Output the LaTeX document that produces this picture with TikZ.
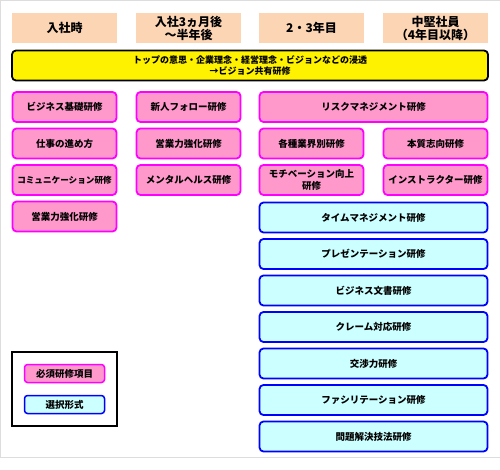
\documentclass[tikz,border=0pt]{standalone}
\usepackage{fontspec}
\setmainfont{Noto Sans CJK JP}
\usetikzlibrary{positioning}
\definecolor{peach}{HTML}{FCD5B4}
\definecolor{pinkfill}{HTML}{FF99CC}
\definecolor{pinkline}{HTML}{FF00FF}
\definecolor{blueline}{HTML}{0000FF}
\definecolor{cyanfill}{HTML}{CCFFFF}
\definecolor{framegray}{HTML}{DDDDDD}

\tikzset{
  header/.style={fill=peach, minimum width=105pt, minimum height=30pt, inner sep=0pt, align=center, font=\fontsize{12}{13}\selectfont\bfseries},
  pinkbox/.style={draw=pinkline, fill=pinkfill, line width=1.8pt, rounded corners=4pt, minimum height=30pt, inner sep=0pt, align=center, font=\fontsize{9.5}{11.5}\selectfont\bfseries},
  bluebox/.style={draw=blueline, fill=cyanfill, line width=1.8pt, rounded corners=4pt, minimum height=30pt, inner sep=0pt, align=center, font=\fontsize{9.5}{11.5}\selectfont\bfseries},
}

\begin{document}
\begin{tikzpicture}[x=1pt, y=-1pt]
\useasboundingbox (0,0) rectangle (500,470);
\draw[framegray, line width=1pt] (500,1)--(0.5,1)--(0.5,457)--(500,457);

% columns
\node[header] (h1) at (64.5,28) {入社時};
\node[header] (h2) at (188.5,28) {入社3ヵ月後\\～半年後};
\node[header] (h3) at (311.5,28) {2・3年目};
\node[header] (h4) at (435.5,28) {中堅社員\\（4年目以降）};

\node[draw=black, fill=yellow, line width=1.8pt, rounded corners=4pt, minimum width=476pt, minimum height=30pt, inner sep=0pt, align=center, font=\fontsize{9}{11}\selectfont\bfseries] (vision) at (250,65.5)
  {トップの意思・企業理念・経営理念・ビジョンなどの浸透\\→ビジョン共有研修};

% 入社時
\foreach \t [count=\i] in {ビジネス基礎研修, 仕事の進め方, {\fontsize{8.6}{10}\selectfont コミュニケーション研修}, 営業力強化研修}
  \node[pinkbox, minimum width=104pt] (a\i) at (64.5,{107+36.5*(\i-1)}) {\t};

% 3ヵ月後
\foreach \t [count=\i] in {新人フォロー研修, 営業力強化研修, メンタルヘルス研修}
  \node[pinkbox, minimum width=104pt] (b\i) at (188.5,{107+36.5*(\i-1)}) {\t};

% 2・3年目 / 中堅
\node[pinkbox, minimum width=228pt] (risk) at (373.5,107) {リスクマネジメント研修};
\node[pinkbox, minimum width=104pt] (gyokai) at (311.5,143.5) {各種業界別研修};
\node[pinkbox, minimum width=104pt] (honshitsu) at (435.5,143.5) {本質志向研修};
\node[pinkbox, minimum width=104pt] (motiv) at (311.5,180) {モチベーション向上\\研修};
\node[pinkbox, minimum width=104pt] (instr) at (435.5,180) {インストラクター研修};

\foreach \t [count=\i] in {タイムマネジメント研修, プレゼンテーション研修, ビジネス文書研修, クレーム対応研修, 交渉力研修, ファシリテーション研修, 問題解決技法研修}
  \node[bluebox, minimum width=228pt] (c\i) at (373.5,{217.5+36.5*(\i-1)}) {\t};

% legend
\draw[black, line width=1.5pt] (12,352) rectangle (117,426);
\node[pinkbox, minimum width=80pt, minimum height=18pt, line width=1.5pt, rounded corners=3pt] (must) at (64.5,373.5) {必須研修項目};
\node[bluebox, minimum width=80pt, minimum height=18pt, line width=1.5pt, rounded corners=3pt] (opt) at (64.5,404.5) {選択形式};
\end{tikzpicture}
\end{document}
